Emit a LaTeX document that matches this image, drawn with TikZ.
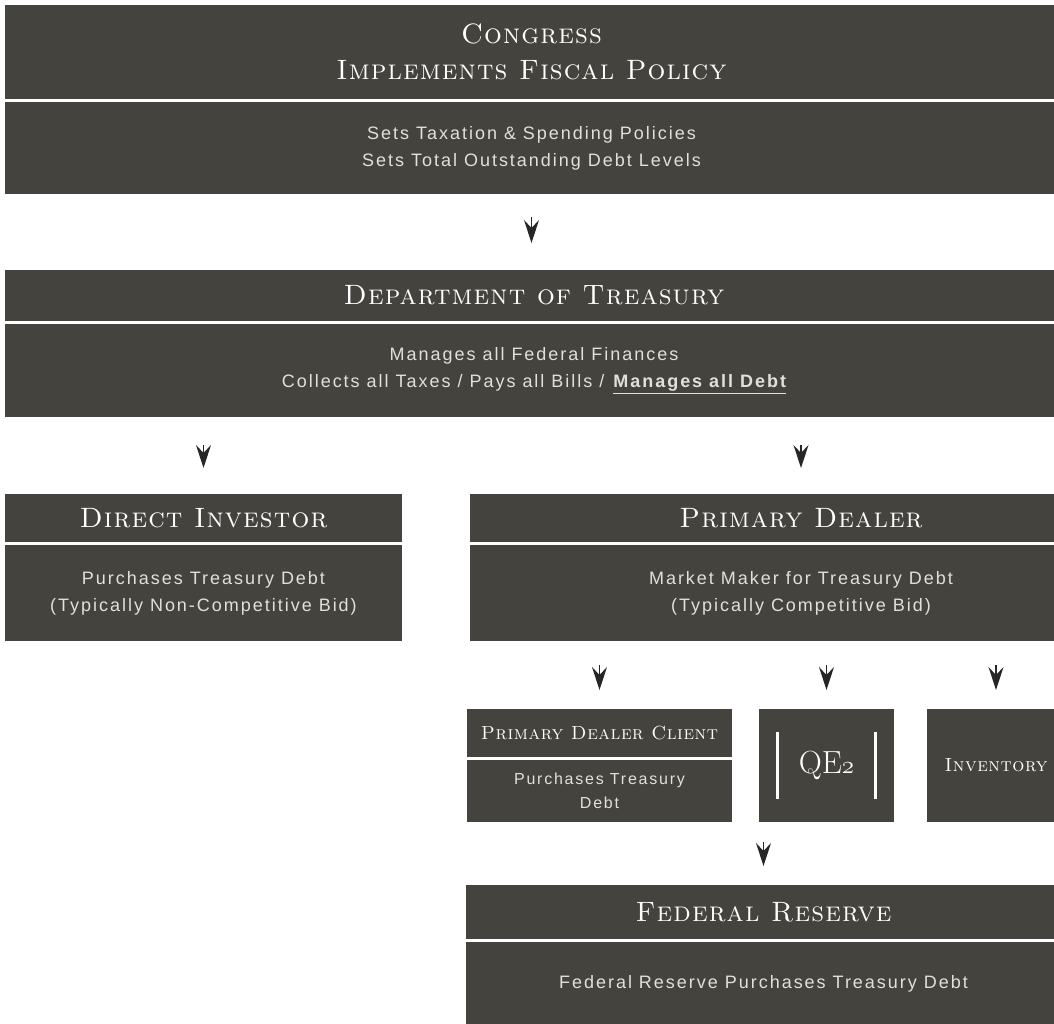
\documentclass[tikz,border=0pt]{standalone}
\usepackage{fontspec}
\newfontfamily\bodyfamily{Liberation Sans}[LetterSpace=11]
\newfontfamily\headfamily{lmroman10-regular}[Extension=.otf, LetterSpace=4,
  SmallCapsFont=lmromancaps10-regular, SmallCapsFeatures={LetterSpace=4}]
\newfontfamily\smallheadfamily{lmroman10-regular}[Extension=.otf, LetterSpace=3,
  SmallCapsFont=lmromancaps10-regular, SmallCapsFeatures={LetterSpace=3}]
\usetikzlibrary{arrows.meta,positioning}
\definecolor{boxgray}{RGB}{69,67,61}
\definecolor{bodygray}{RGB}{224,224,222}
\newcommand{\headfont}{\headfamily\fontsize{28}{36}\selectfont\scshape}
\newcommand{\smallheadfont}{\smallheadfamily\fontsize{19}{24}\selectfont\scshape}
\newcommand{\bodyfont}{\bodyfamily\fontsize{18}{27}\selectfont}
\newcommand{\oldtwo}{{\usefont{OML}{lmm}{m}{it}2}}
\tikzset{
head/.style  = {fill=boxgray, text=white, inner sep=0pt, outer sep=0pt, align=center, font=\headfont},
body/.style  = {fill=boxgray, text=bodygray, inner sep=0pt, outer sep=0pt, align=center, font=\bodyfont},
flow/.style  = {-{Stealth[length=23pt,width=15pt,inset=8pt]}, line width=1.4pt, black!85},
bar/.style   = {white, line width=3pt}
}

\begin{document}
\begin{tikzpicture}[x=1pt, y=-1pt]
  \useasboundingbox (0,0) rectangle (1054,1024);

  % congress
  \node [head, anchor=north west, minimum width=1053pt, minimum height=94pt] (congresshead) at (5,5)
        {Congress\\Implements Fiscal Policy};
  \node [body, below=3pt of congresshead.south west, anchor=north west, minimum width=1053pt, minimum height=92pt] (congressbody)
        {Sets Taxation \& Spending Policies\\Sets Total Outstanding Debt Levels};

  % treasury
  \node [head, anchor=north west, minimum width=1058pt, minimum height=51pt] (treasuryhead) at (5,270)
        {Department of Treasury};
  \node [body, below=3pt of treasuryhead.south west, anchor=north west, minimum width=1058pt, minimum height=93pt] (treasurybody)
        {Manages all Federal Finances\\Collects all Taxes / Pays all Bills / \textbf{\underline{Manages all Debt}}};

  % buyers at auction
  \node [head, anchor=north west, minimum width=397pt, minimum height=48pt] (dihead) at (5,494)
        {Direct Investor};
  \node [body, below=3pt of dihead.south west, anchor=north west, minimum width=397pt, minimum height=96pt] (dibody)
        {Purchases Treasury Debt\\(Typically Non-Competitive Bid)};
  \node [head, anchor=north west, minimum width=662pt, minimum height=48pt] (pdhead) at (470,494)
        {Primary Dealer};
  \node [body, below=3pt of pdhead.south west, anchor=north west, minimum width=662pt, minimum height=96pt] (pdbody)
        {Market Maker for Treasury Debt\\(Typically Competitive Bid)};

  % where the dealer sells
  \node [head, font=\smallheadfont, anchor=north west, minimum width=265pt, minimum height=48pt] (pdchead) at (467,709)
        {Primary Dealer Client};
  \node [body, font=\bodyfamily\fontsize{16}{24}\selectfont, below=3pt of pdchead.south west, anchor=north west,
         minimum width=265pt, minimum height=62pt] (pdcbody)
        {Purchases Treasury\\Debt};
  \node [head, font=\fontsize{32}{32}\selectfont, anchor=north west, minimum width=135pt, minimum height=113pt] (qe) at (759,709)
        {QE\oldtwo};
  \node [head, font=\smallheadfont, anchor=north west, minimum width=138pt, minimum height=113pt] (inventory) at (927,709)
        {Inventory};
  \draw [bar] ([xshift=18pt, yshift=-23pt]qe.north west) -- ([xshift=18pt, yshift=23pt]qe.south west);
  \draw [bar] ([xshift=-19pt, yshift=-23pt]qe.north east) -- ([xshift=-19pt, yshift=23pt]qe.south east);

  % fed
  \node [head, anchor=north west, minimum width=595pt, minimum height=54pt] (fedhead) at (466,885)
        {Federal Reserve};
  \node [body, below=3pt of fedhead.south west, anchor=north west, minimum width=595pt, minimum height=83pt] (fedbody)
        {Federal Reserve Purchases Treasury Debt};

  \draw [flow, shorten <=23pt, shorten >=27pt] (congressbody.south) -- (congressbody.south |- treasuryhead.north);
  \draw [flow, shorten <=28pt, shorten >=26pt] (dihead.north |- treasurybody.south) -- (dihead.north);
  \draw [flow, shorten <=28pt, shorten >=26pt] (pdhead.north |- treasurybody.south) -- (pdhead.north);
  \draw [flow, shorten <=24pt, shorten >=19pt] (pdchead.north |- pdbody.south) -- (pdchead.north);
  \draw [flow, shorten <=24pt, shorten >=19pt] (qe.north |- pdbody.south) -- (qe.north);
  \draw [flow, shorten <=24pt, shorten >=19pt] (inventory.north |- pdbody.south) -- (inventory.north);
  \draw [flow, shorten <=20pt, shorten >=19pt] (fedhead.north |- qe.south) -- (fedhead.north);
\end{tikzpicture}
\end{document}
